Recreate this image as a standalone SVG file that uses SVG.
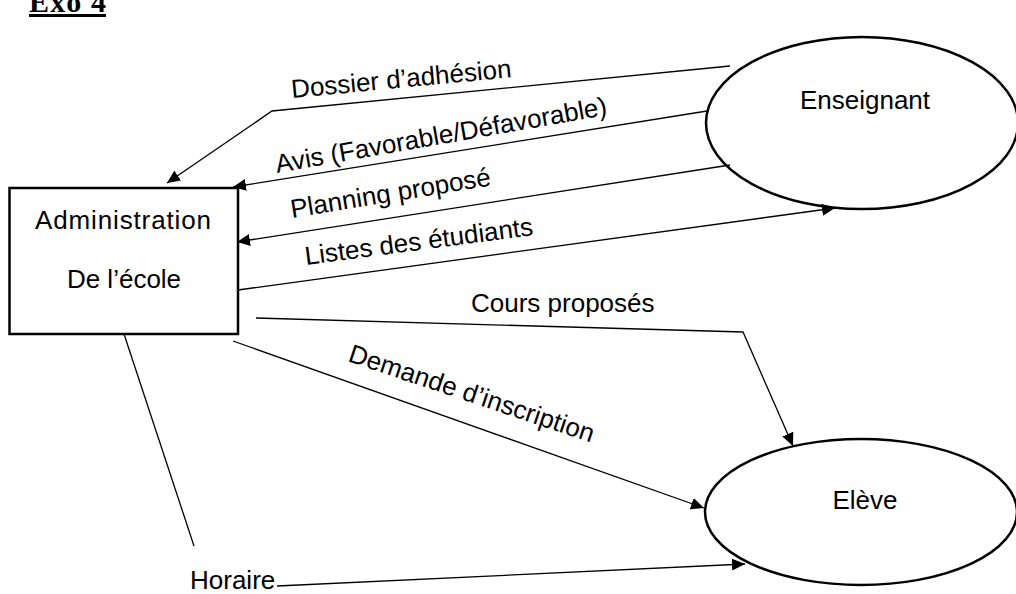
<svg xmlns="http://www.w3.org/2000/svg" width="1016" height="594" viewBox="0 0 1016 594">
  <style>
    .lbl { font-family: "Liberation Sans", Arial, sans-serif; font-size: 26px; fill: #000; }
    .node { fill: #fff; stroke: #000; stroke-width: 2.5; }
    .flow { fill: none; stroke: #000; stroke-width: 1.3; }
    .title { font-family: "Liberation Serif", "Times New Roman", serif; font-weight: bold; font-size: 30px; fill: #000; }
  </style>
  <defs>
    <marker id="arrow" markerUnits="userSpaceOnUse" markerWidth="14" markerHeight="12" refX="13" refY="6" orient="auto">
      <path d="M0,0 L13,6 L0,12 z" fill="#000"/>
    </marker>
  </defs>

  <rect width="1016" height="594" fill="#fff"/>

  <!-- heading -->
  <g id="title">
    <text class="title" x="29" y="12" textLength="77">Exo 4</text>
    <rect x="29" y="14" width="77" height="3" fill="#000"/>
  </g>

  <!-- nodes -->
  <g id="administration">
    <rect class="node" x="9.5" y="188" width="228.5" height="146"/>
    <text class="lbl" x="35" y="229" textLength="176">Administration</text>
    <text class="lbl" x="124" y="288" text-anchor="middle">De l’école</text>
  </g>
  <g id="enseignant">
    <ellipse class="node" cx="862" cy="123" rx="156" ry="86"/>
    <text class="lbl" x="865" y="109" text-anchor="middle">Enseignant</text>
  </g>
  <g id="eleve">
    <ellipse class="node" cx="861" cy="512" rx="156" ry="73"/>
    <text class="lbl" x="865" y="509" text-anchor="middle">Elève</text>
  </g>

  <!-- flows -->
  <g id="connectors">
    <polyline class="flow" points="730,66 272,111 167,183" marker-end="url(#arrow)"/>
    <line class="flow" x1="707" y1="111" x2="233" y2="187" marker-end="url(#arrow)"/>
    <line class="flow" x1="730" y1="165" x2="237" y2="242" marker-end="url(#arrow)"/>
    <line class="flow" x1="238" y1="290" x2="835" y2="208" marker-end="url(#arrow)"/>
    <polyline class="flow" points="256,318 743,332 793,446" marker-end="url(#arrow)"/>
    <line class="flow" x1="233" y1="341" x2="704" y2="508" marker-end="url(#arrow)"/>
    <line class="flow" x1="124" y1="334" x2="194" y2="546"/>
    <line class="flow" x1="277" y1="586" x2="745" y2="564" marker-end="url(#arrow)"/>
  </g>

  <!-- flow labels -->
  <g id="labels">
    <text class="lbl" transform="translate(292,98) rotate(-5.4)">Dossier d’adhésion</text>
    <text class="lbl" transform="translate(277,173) rotate(-10)">Avis (Favorable/Défavorable)</text>
    <text class="lbl" transform="translate(292,218) rotate(-9.3)">Planning proposé</text>
    <text class="lbl" transform="translate(306,265) rotate(-7.5)">Listes des étudiants</text>
    <text class="lbl" x="471" y="312">Cours proposés</text>
    <text class="lbl" transform="translate(347,361) rotate(18.5)">Demande d’inscription</text>
    <text class="lbl" x="190" y="589">Horaire</text>
  </g>
</svg>
